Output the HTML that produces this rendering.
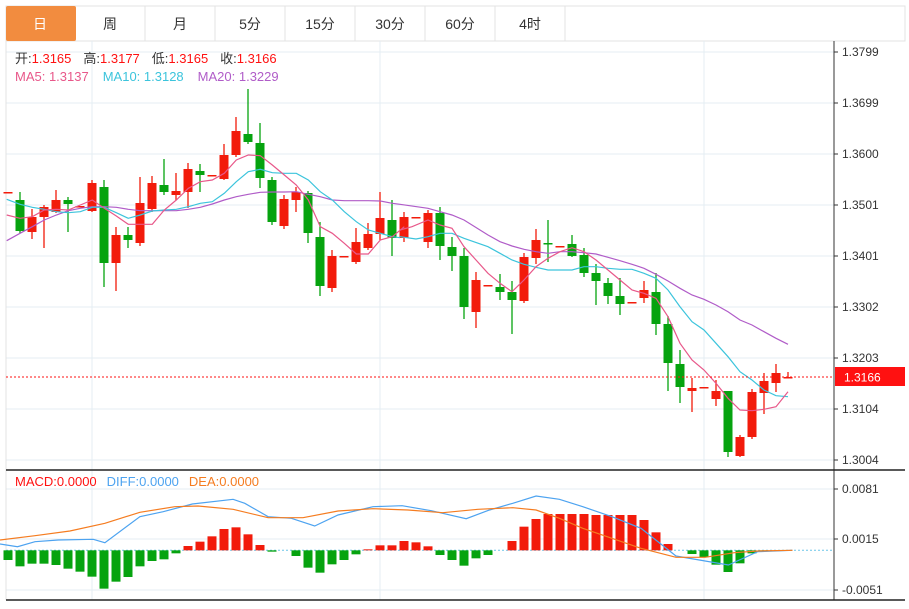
<!DOCTYPE html>
<html><head><meta charset="utf-8">
<style>
body{margin:0;background:#fff;font-family:"Liberation Sans","Noto Sans CJK SC",sans-serif;}
svg text{font-family:"Liberation Sans","Noto Sans CJK SC",sans-serif;}
</style></head>
<body>
<svg id="s" width="909" height="604" xmlns="http://www.w3.org/2000/svg">
<rect width="909" height="604" fill="#fff"/>
<rect x="6" y="6" width="899" height="35" fill="#fff" stroke="#e3e3e3"/>
<rect x="6" y="6" width="70" height="35" fill="#f28c3f" rx="2"/>
<g stroke="#e3e3e3"><line x1="145" y1="6" x2="145" y2="41"/><line x1="215" y1="6" x2="215" y2="41"/><line x1="285" y1="6" x2="285" y2="41"/><line x1="355" y1="6" x2="355" y2="41"/><line x1="425" y1="6" x2="425" y2="41"/><line x1="495" y1="6" x2="495" y2="41"/><line x1="565" y1="6" x2="565" y2="41"/></g>
<g font-size="14" text-anchor="middle" fill="#333">
<text x="40" y="29" fill="#fff">日</text><text x="110" y="29">周</text><text x="180" y="29">月</text><text x="250" y="29">5分</text><text x="320" y="29">15分</text><text x="390" y="29">30分</text><text x="460" y="29">60分</text><text x="530" y="29">4时</text>
</g>
<g id="grid" stroke="#e4edf3"></g>
<line x1="6" y1="41" x2="6" y2="600" stroke="#e3e3e3"/>
<line x1="834" y1="41" x2="834" y2="600" stroke="#333"/>
<line x1="6" y1="470" x2="905" y2="470" stroke="#222" stroke-width="1.5"/>
<line x1="6" y1="600" x2="905" y2="600" stroke="#222" stroke-width="1.5"/>
<g id="c"></g>
<line x1="6" y1="377" x2="834" y2="377" stroke="#f11" stroke-dasharray="2,2"/>
<rect x="835" y="367" width="70" height="19" fill="#f11"/>
<text x="844" y="381.5" fill="#fff" font-size="12">1.3166</text>
<g font-size="12" fill="#333" id="lab"></g>
<g font-size="13">
<text x="15" y="63"><tspan fill="#333">开:</tspan><tspan fill="#f11">1.3165</tspan><tspan fill="#333" dx="12">高:</tspan><tspan fill="#f11">1.3177</tspan><tspan fill="#333" dx="12">低:</tspan><tspan fill="#f11">1.3165</tspan><tspan fill="#333" dx="12">收:</tspan><tspan fill="#f11">1.3166</tspan></text>
<text x="15" y="81"><tspan fill="#e8588a">MA5: 1.3137</tspan><tspan fill="#3cc4dc" dx="14">MA10: 1.3128</tspan><tspan fill="#b05cc8" dx="14">MA20: 1.3229</tspan></text>
<text x="15" y="486"><tspan fill="#f11">MACD:0.0000</tspan><tspan fill="#4da3f0" dx="10">DIFF:0.0000</tspan><tspan fill="#f57c20" dx="10">DEA:0.0000</tspan></text>
</g>
</svg>
<script>
var NS="http://www.w3.org/2000/svg",s=document.getElementById('s');
function el(p,t,a){var e=document.createElementNS(NS,t);for(var k in a)e.setAttribute(k,a[k]);p.appendChild(e);return e;}
var g=document.getElementById('grid');
[52,103,154,205,256,307,358,409,460].forEach(function(y){el(g,'line',{x1:6,y1:y,x2:834,y2:y});});
[489,539,590].forEach(function(y){el(g,'line',{x1:6,y1:y,x2:834,y2:y});});
[92,380,704].forEach(function(x){el(g,'line',{x1:x,y1:41,x2:x,y2:600});});
var lab=document.getElementById('lab');
var pl=[["1.3799",52],["1.3699",103],["1.3600",154],["1.3501",205],["1.3401",256],["1.3302",307],["1.3203",358],["1.3104",409],["1.3004",460],["0.0081",489],["0.0015",539],["-0.0051",590]];
pl.forEach(function(p){el(lab,'line',{x1:834,y1:p[1],x2:838,y2:p[1],stroke:'#333'});var t=el(lab,'text',{x:842,y:p[1]+4});t.textContent=p[0];});
var C=[[192,192,192,192],[200,231,192,233],[232,217,209,239],[217,207,205,248],[212,200,190,213],[200,204,197,232],[206,206,206,206],[211,183,180,212],[187,263,180,287],[263,235,227,291],[235,240,227,248],[243,203,177,246],[209,183,176,212],[185,192,159,195],[195,191,173,200],[192,169,163,208],[171,175,164,192],[175,175,175,175],[179,155,144,180],[155,131,117,157],[134,142,89,144],[143,178,123,188],[180,222,177,225],[226,199,195,229],[200,192,187,212],[193,233,191,243],[237,286,222,296],[288,256,250,292],[256,256,256,256],[262,242,228,264],[248,234,223,250],[234,218,192,240],[220,238,200,256],[238,217,212,242],[217,217,217,217],[242,213,210,248],[213,246,207,260],[247,256,237,271],[256,307,248,319],[312,280,272,328],[285,285,285,285],[287,292,274,300],[292,300,281,334],[301,257,253,303],[258,240,229,264],[243,244,220,262],[246,246,246,246],[244,256,235,257],[255,273,248,277],[273,281,264,305],[283,296,278,304],[296,304,278,315],[302,302,302,302],[298,290,281,303],[292,324,273,335],[324,363,316,391],[364,387,350,403],[391,388,378,412],[387,387,387,387],[399,391,380,406],[391,452,391,457],[456,437,435,457],[437,392,389,439],[393,381,373,414],[383,373,364,392],[377,377,372,377]];
var cg=document.getElementById('c');
C.forEach(function(c,i){var x=8+12*i,up=c[1]<=c[0],col=up?'#f21b0b':'#06a30f';
el(cg,'line',{x1:x,y1:c[2],x2:x,y2:c[3],stroke:col,'stroke-width':1.3});
var t=Math.min(c[0],c[1]),h=Math.max(Math.abs(c[1]-c[0]),1.5);el(cg,'rect',{x:x-4.5,y:t,width:9,height:h,fill:col});});
function line(pts,sx,sy,ox,oy,col){var d=pts.map(function(p){return (p[0]/sx+ox).toFixed(1)+','+(p[1]/sy+oy).toFixed(1);}).join(' ');el(cg,'polyline',{points:d,fill:'none',stroke:col,'stroke-width':1.2});}
var ma5a=[[20,645],[60,655],[97,650],[133,630],[169,628],[205,630],[241,615],[277,600],[313,625],[349,648],[385,673],[421,673],[457,673],[493,630],[529,600],[565,565],[601,545],[637,540],[673,520],[709,480],[745,465],[781,467],[817,495],[853,525],[889,555],[925,600],[961,680],[997,700],[1033,730],[1069,762],[1105,762],[1141,720],[1177,710],[1213,680]];
var ma5b=[[0,180],[36,170],[84,150],[120,165],[156,175],[192,230],[228,270],[264,310],[300,340],[336,365],[372,330],[408,290],[444,265],[480,245],[516,233],[552,245],[588,270],[624,300],[660,330],[696,360],[732,370],[768,385],[804,440],[840,520],[876,570],[912,600],[948,640],[984,685],[1020,720],[1056,722],[1092,718],[1128,710],[1164,665]];
var ma10a=[[20,598],[60,613],[97,622],[133,628],[169,635],[205,638],[241,635],[277,622],[313,622],[349,638],[385,655],[421,645],[457,633],[493,630],[529,628],[565,620],[601,610],[637,605],[673,580],[709,545],[745,515],[781,508],[817,518],[853,520],[889,520],[925,540],[961,575],[997,600],[1033,635],[1069,665],[1105,690],[1141,700],[1177,710],[1200,713]];
var ma10b=[[0,200],[48,207],[84,200],[120,190],[156,190],[192,205],[264,230],[300,250],[336,270],[372,283],[408,292],[444,300],[480,300],[516,300],[552,290],[588,290],[624,295],[660,298],[696,298],[732,310],[768,325],[804,360],[840,410],[876,455],[912,480],[948,520],[984,560],[1020,605],[1056,630],[1092,660],[1128,677],[1164,680]];
var ma20a=[[20,722],[60,700],[97,680],[133,660],[169,645],[205,632],[241,625],[277,620],[313,620],[349,622],[385,628],[421,632],[457,632],[493,632],[529,632],[565,628],[601,622],[637,612],[673,600],[709,590],[745,583],[781,577],[817,576],[853,576],[889,575],[925,583],[961,590],[997,600],[1033,602],[1069,602],[1105,602],[1141,603],[1177,610],[1200,613]];
var ma20b=[[0,103],[84,115],[120,125],[156,135],[192,150],[264,195],[300,215],[336,228],[372,238],[408,245],[444,250],[480,245],[516,245],[552,248],[588,252],[624,262],[660,272],[696,283],[732,295],[768,313],[804,333],[840,355],[876,375],[912,388],[948,405],[984,425],[1020,450],[1056,465],[1092,485],[1128,505],[1164,523]];
line(ma20a,3,3,0,0,'#b05cc8');line(ma20b,3,3,400,170,'#b05cc8');
line(ma10a,3,3,0,0,'#3cc4dc');line(ma10b,3,3,400,170,'#3cc4dc');
line(ma5a,3,3,0,0,'#e8588a');line(ma5b,3,3,400,170,'#e8588a');
var B=[270,289,281,281,285,296,305,320,356,335,321,289,273,268,250,228,215,199,177,172,193,225,245,241,258,293,308,283,270,253,238,226,226,213,217,229,255,270,287,265,255,241,213,170,147,132,132,132,132,135,135,135,135,150,187,222,240,252,262,284,306,280,250,244,241,241];
el(cg,'line',{x1:6,y1:550.3,x2:834,y2:550.3,stroke:'#6cc6e8','stroke-dasharray':'2,2'});
B.forEach(function(b,i){var x=8+12*i,y=b/3+470,z=241/3+470;if(Math.abs(y-z)<0.5)return;var col=y<z?'#f21b0b':'#06a30f';
el(cg,'rect',{x:x-4.5,y:Math.min(y,z),width:9,height:Math.abs(y-z),fill:col});});
var dea=[[0,210],[60,197],[120,183],[180,160],[240,127],[300,110],[340,108],[400,118],[460,143],[520,143],[580,123],[640,116],[700,120],[760,128],[820,118],[880,113],[920,120],[960,145],[1000,175],[1050,205],[1100,235],[1160,262],[1210,262],[1260,248],[1300,243],[1360,241]];
var dif=[[0,222],[30,230],[60,215],[100,210],[160,208],[180,218],[240,140],[280,125],[330,102],[400,88],[420,100],[460,140],[500,145],[540,168],[580,135],[640,110],[690,107],[740,122],[800,146],[840,120],[880,100],[920,78],[960,88],[1000,110],[1050,140],[1100,175],[1160,258],[1200,270],[1250,285],[1300,245],[1360,241]];
line(dif,1.716,3,0,470,'#4da3f0');line(dea,1.716,3,0,470,'#f57c20');
</script>
</body></html>
